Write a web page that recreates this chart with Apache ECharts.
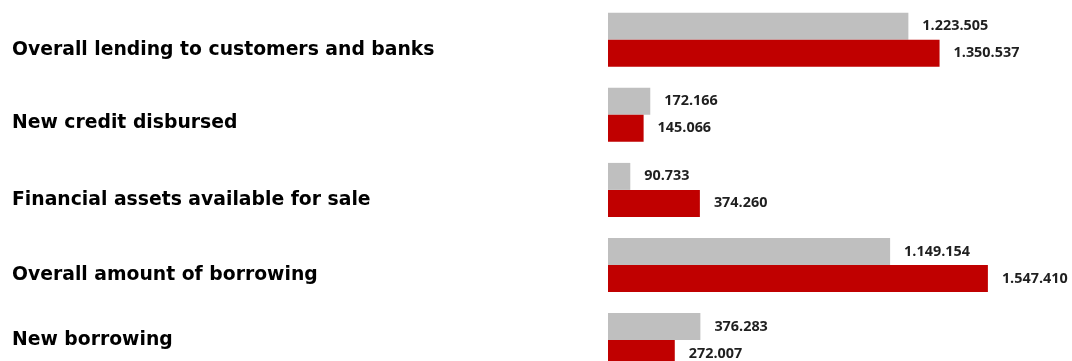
<!DOCTYPE html>
<html>
<head>
<meta charset="utf-8">
<script src="https://cdn.jsdelivr.net/npm/echarts@6/dist/echarts.min.js"></script>
<style>
  html, body { margin: 0; padding: 0; background: #ffffff; overflow: hidden; }
  #chart { width: 1072px; height: 400px; }
</style>
</head>
<body>
<div id="chart"></div>
<script>
// Categories, top to bottom
const categories = [
  'Overall lending to customers and banks',
  'New credit disbursed',
  'Financial assets available for sale',
  'Overall amount of borrowing',
  'New borrowing'
];
// Two periods compared per category
const previousValues = [1223505, 172166, 90733, 1149154, 376283];
const currentValues  = [1350537, 145066, 374260, 1547410, 272007];

// How far each category caption sits below its bar pair (px)
const captionDrop = [10, 8, 10, 10, 0];

// Thousands grouped with dots: 1223505 -> "1.223.505"
function groupDots(n) {
  return String(Math.round(n)).replace(/\B(?=(\d{3})+(?!\d))/g, '.');
}

const captionFont = {
  fontFamily: '"DejaVu Sans", sans-serif',
  fontWeight: 'bold',
  fontSize: 18.8,
  color: '#000000'
};
const rich = {};
captionDrop.forEach((d, i) => {
  rich['c' + i] = Object.assign({ padding: [2 * d, 0, 0, 0] }, captionFont);
});

const valueLabel = {
  show: true,
  position: 'right',
  distance: 14,
  fontFamily: '"Open Sans", "Liberation Sans", sans-serif',
  fontWeight: 'bold',
  fontSize: 14.4,
  color: '#1f1f1f',
  formatter: p => groupDots(p.value)
};

const chart = echarts.init(document.getElementById('chart'), null, { renderer: 'canvas' });
chart.setOption({
  animation: false,
  backgroundColor: '#ffffff',
  grid: { left: 608, top: 2.2, width: 464, height: 375.4, containLabel: false },
  xAxis: {
    type: 'value',
    min: 0,
    max: 1890000,
    show: false
  },
  yAxis: {
    type: 'category',
    inverse: true,
    data: categories,
    axisLine: { show: false },
    axisTick: { show: false },
    splitLine: { show: false },
    axisLabel: {
      align: 'left',
      margin: 596,
      formatter: (v, i) => '{c' + i + '|' + v + '}',
      rich: rich
    }
  },
  series: [
    {
      type: 'bar',
      data: previousValues,
      barWidth: 27,
      barGap: '0%',
      itemStyle: { color: '#bfbfbf' },
      label: valueLabel
    },
    {
      type: 'bar',
      data: currentValues,
      barWidth: 27,
      barGap: '0%',
      itemStyle: { color: '#c00000' },
      label: valueLabel
    }
  ]
});
</script>
</body>
</html>
